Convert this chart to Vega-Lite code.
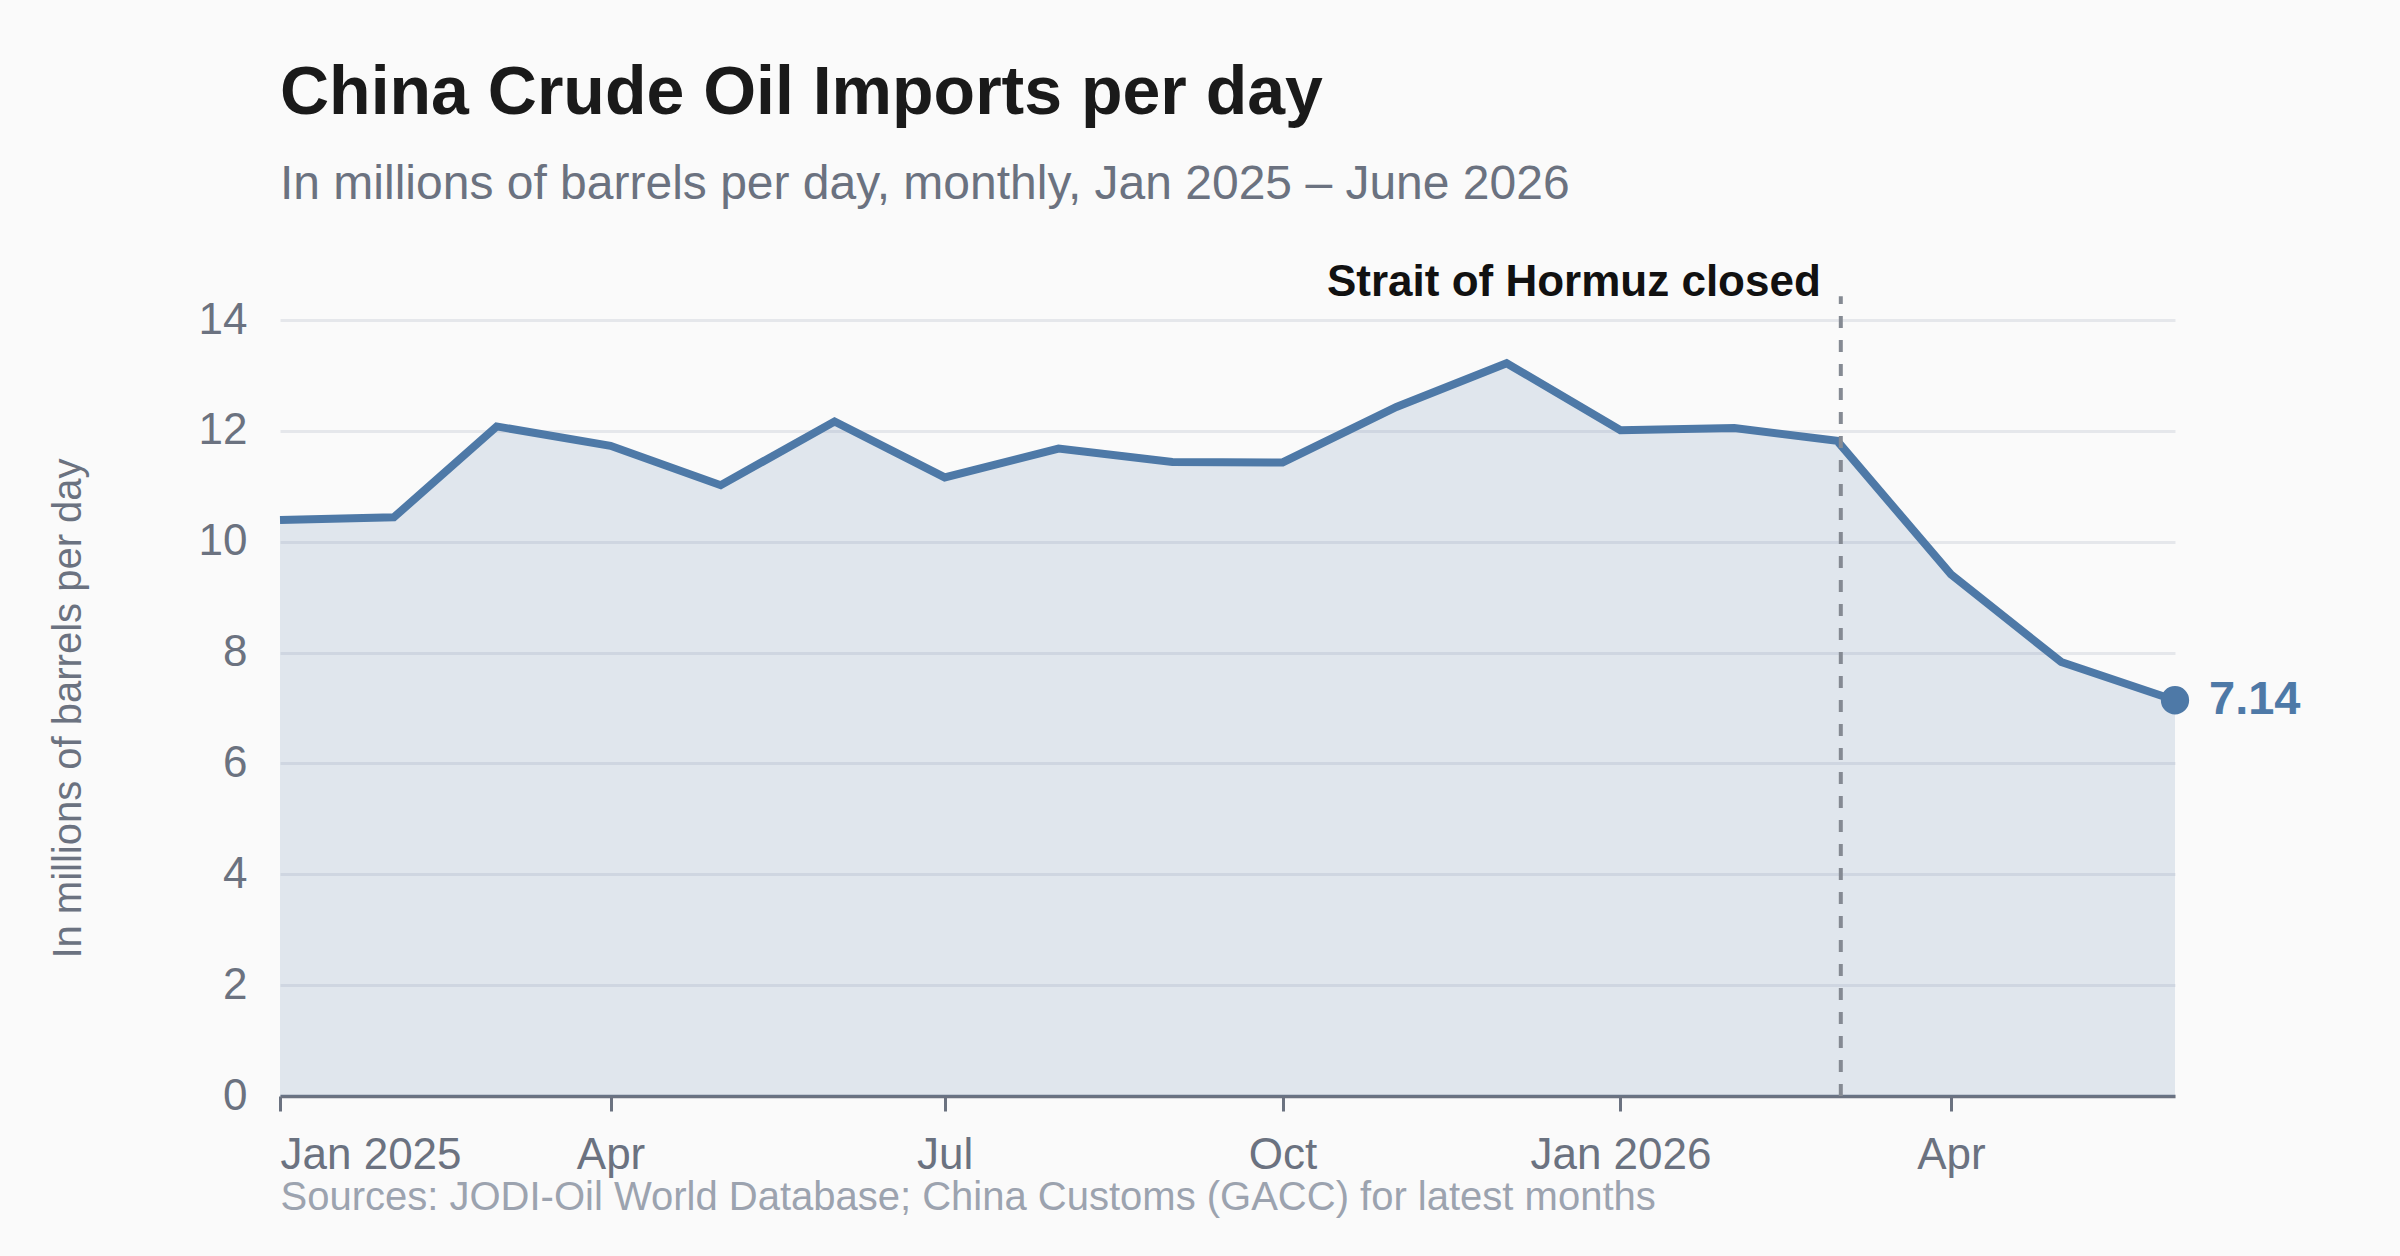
{
  "$schema": "https://vega.github.io/schema/vega-lite/v6.json",
  "width": 1895,
  "height": 776,
  "autosize": {"type": "none"},
  "padding": {"left": 280, "top": 320, "right": 225, "bottom": 160},
  "background": "#fafafa",
  "title": {
    "text": "China Crude Oil Imports per day",
    "subtitle": "In millions of barrels per day, monthly, Jan 2025 – June 2026",
    "anchor": "start",
    "frame": "group",
    "fontSize": 68,
    "fontWeight": "bold",
    "color": "#1a1a1a",
    "subtitleFontSize": 48,
    "subtitleColor": "#6b7280",
    "subtitlePadding": 33,
    "offset": 52
  },
  "datasets": {
    "imports": [
      {"date": "2025-01-01", "mbpd": 10.39},
      {"date": "2025-02-01", "mbpd": 10.44},
      {"date": "2025-03-01", "mbpd": 12.08},
      {"date": "2025-04-01", "mbpd": 11.73},
      {"date": "2025-05-01", "mbpd": 11.02},
      {"date": "2025-06-01", "mbpd": 12.17},
      {"date": "2025-07-01", "mbpd": 11.16},
      {"date": "2025-08-01", "mbpd": 11.68},
      {"date": "2025-09-01", "mbpd": 11.44},
      {"date": "2025-10-01", "mbpd": 11.43},
      {"date": "2025-11-01", "mbpd": 12.43},
      {"date": "2025-12-01", "mbpd": 13.22},
      {"date": "2026-01-01", "mbpd": 12.01},
      {"date": "2026-02-01", "mbpd": 12.05},
      {"date": "2026-03-01", "mbpd": 11.82},
      {"date": "2026-04-01", "mbpd": 9.41},
      {"date": "2026-05-01", "mbpd": 7.83},
      {"date": "2026-06-01", "mbpd": 7.14}
    ],
    "events": [
      {"date": "2026-03-02", "label": "Strait of Hormuz closed"}
    ]
  },
  "data": {"name": "imports"},
  "layer": [
    {
      "mark": {"type": "area", "color": "#4e79a7", "opacity": 0.15},
      "encoding": {
        "x": {
          "field": "date",
          "type": "temporal",
          "scale": {"type": "utc"},
          "axis": {
            "tickCount": {"interval": "month", "step": 3},
            "labelExpr": "utcFormat(datum.value, utcmonth(datum.value) === 0 ? '%b %Y' : '%b')",
            "labelLimit": 400,
            "grid": false,
            "domainColor": "#6b7280",
            "domainWidth": 3.5,
            "tickColor": "#6b7280",
            "tickWidth": 3,
            "tickSize": 15,
            "labelFontSize": 44,
            "labelColor": "#6b7280",
            "labelPadding": 22,
            "title": "Sources: JODI-Oil World Database; China Customs (GACC) for latest months",
            "titleAnchor": "start",
            "titleAlign": "left",
            "titleFontSize": 40,
            "titleFontWeight": "normal",
            "titleColor": "#9ca3af",
            "titlePadding": 0
          }
        },
        "y": {
          "field": "mbpd",
          "type": "quantitative",
          "scale": {"domain": [0, 14], "nice": false},
          "axis": {
            "values": [0, 2, 4, 6, 8, 10, 12, 14],
            "format": "d",
            "domain": false,
            "ticks": false,
            "gridColor": "#e5e7eb",
            "gridWidth": 3,
            "labelFontSize": 44,
            "labelColor": "#6b7280",
            "labelPadding": 33,
            "title": "In millions of barrels per day",
            "titleFontSize": 40,
            "titleFontWeight": "normal",
            "titleColor": "#6b7280",
            "titlePadding": 110
          }
        }
      }
    },
    {
      "mark": {"type": "line", "color": "#4e79a7", "strokeWidth": 8, "strokeJoin": "miter"},
      "encoding": {
        "x": {"field": "date", "type": "temporal"},
        "y": {"field": "mbpd", "type": "quantitative"}
      }
    },
    {
      "data": {"name": "events"},
      "mark": {"type": "rule", "color": "#858a93", "strokeWidth": 4, "strokeDash": [12, 12]},
      "encoding": {
        "x": {"field": "date", "type": "temporal"},
        "y": {"datum": 0},
        "y2": {"datum": 14.43}
      }
    },
    {
      "data": {"name": "events"},
      "mark": {"type": "text", "align": "right", "baseline": "alphabetic", "dx": -20, "fontSize": 44, "fontWeight": "bold", "color": "#111111"},
      "encoding": {
        "x": {"field": "date", "type": "temporal"},
        "y": {"datum": 14.43},
        "text": {"field": "label"}
      }
    },
    {
      "transform": [{"filter": {"field": "date", "timeUnit": "utcyearmonth", "equal": {"year": 2026, "month": 6, "utc": true}}}],
      "mark": {"type": "point", "filled": true, "opacity": 1, "size": 800, "color": "#4e79a7"},
      "encoding": {
        "x": {"field": "date", "type": "temporal"},
        "y": {"field": "mbpd", "type": "quantitative"}
      }
    },
    {
      "transform": [{"filter": {"field": "date", "timeUnit": "utcyearmonth", "equal": {"year": 2026, "month": 6, "utc": true}}}],
      "mark": {"type": "text", "align": "left", "baseline": "middle", "dx": 34, "fontSize": 47, "fontWeight": "bold", "color": "#4e79a7"},
      "encoding": {
        "x": {"field": "date", "type": "temporal"},
        "y": {"field": "mbpd", "type": "quantitative"},
        "text": {"field": "mbpd", "type": "quantitative", "format": ".2f"}
      }
    }
  ],
  "config": {
    "font": "Liberation Sans",
    "view": {"stroke": null}
  }
}
